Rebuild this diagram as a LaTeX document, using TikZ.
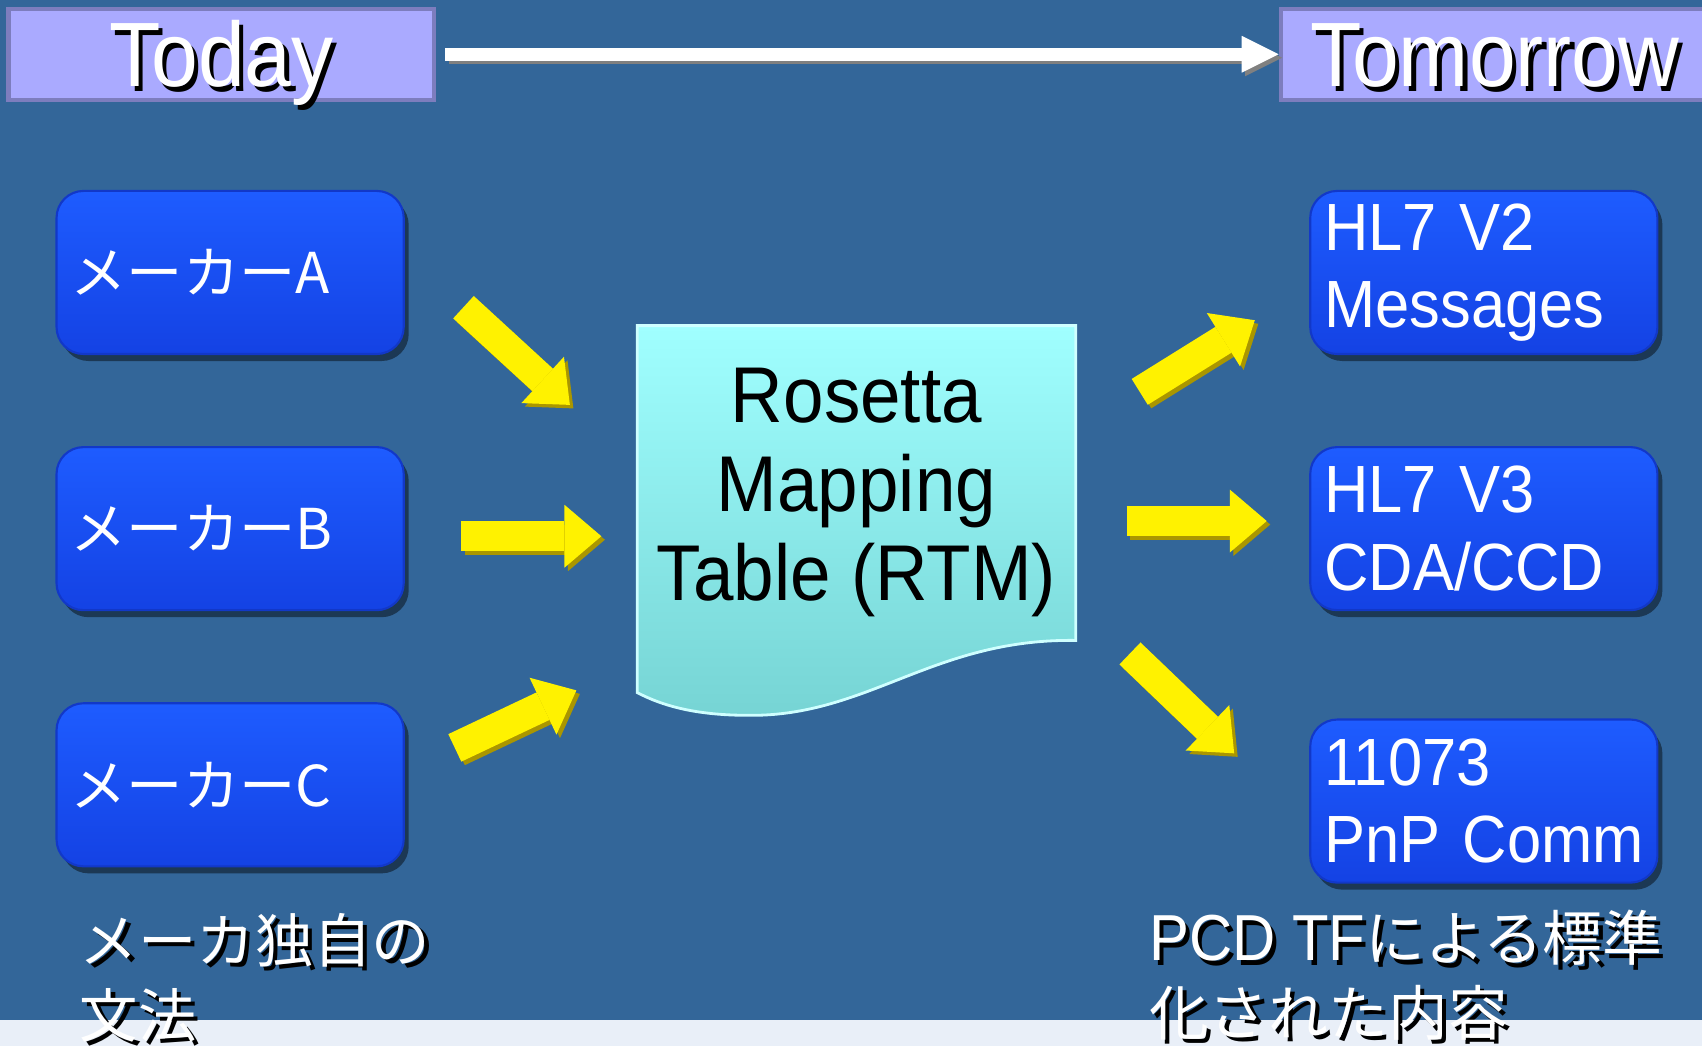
\documentclass[tikz,border=0pt]{standalone}
\usepackage{fontspec}
\setmainfont{Liberation Sans}[FakeStretch=0.92]
\newfontfamily\jp{Noto Sans CJK JP}
\usetikzlibrary{arrows.meta,shadows}
\definecolor{slide}{RGB}{51,102,153}
\definecolor{strip}{RGB}{233,239,248}
\definecolor{lav}{RGB}{170,170,255}
\definecolor{lavline}{RGB}{125,125,190}
\definecolor{btop}{RGB}{30,92,255}
\definecolor{bbot}{RGB}{20,66,228}
\definecolor{bline}{RGB}{18,56,200}
\definecolor{ctop}{RGB}{160,255,255}
\definecolor{cbot}{RGB}{118,212,212}
\definecolor{olivesh}{RGB}{170,150,0}
\newcommand\shd[1]{\leavevmode\rlap{\kern1.2pt\raisebox{-1.2pt}{\color{black}#1}}#1}

\begin{document}
\begin{tikzpicture}[
  x=0.010855cm, y=-0.010855cm,
  tbox/.style={draw=lavline, fill=lav, line width=1.2pt, minimum width=4.255cm,
    minimum height=0.912cm, inner sep=0pt, text=white,
    font=\fontsize{26}{30}\selectfont, text height=18.5pt, text depth=0pt},
  maker/.style={rounded corners=0.27cm, draw=bline, line width=0.6pt,
    top color=btop, bottom color=bbot, minimum width=3.47cm, minimum height=1.63cm,
    text width=3.19cm, align=left, inner xsep=0.14cm, inner ysep=0pt, text=white,
    font={\jp\fontsize{16}{19}\selectfont},
    drop shadow={shadow xshift=0.05cm, shadow yshift=-0.07cm, opacity=0.45, fill=black}},
  std/.style={font=\fontsize{19}{22}\selectfont},
  rtmtext/.style={align=center, inner sep=0pt, font=\fontsize{22.5}{25.3}\selectfont},
  note/.style={align=left, inner sep=0pt, text=white, anchor=north west,
    font={\jp\fontsize{16.6}{21.3}\selectfont}},
  yarr/.style={draw=yellow, line width=8.65pt, -{Triangle[length=10.5pt, width=17.9pt, line width=0pt]}},
  ysh/.style={yarr, draw=olivesh, transform canvas={xshift=1pt, yshift=-1pt}},
  warr/.style={draw=white, line width=3.7pt, -{Triangle[length=10.5pt, width=10.5pt, line width=0pt]}},
  wsh/.style={warr, draw=gray, transform canvas={xshift=1pt, yshift=-1pt}},
]

\useasboundingbox (0,0) rectangle (1568,964);
\clip (0,0) rectangle (1568,964);
\fill [slide] (0,0) rectangle (1568,940);
\fill [strip] (0,940) rectangle (1568,964);

\node [tbox] (today) at (204,50) {\shd{Today}};
\node [tbox, minimum width=4.277cm] (tomorrow) at (1377,50) {\shd{Tomorrow}};
\coordinate (ws) at (410,50);
\draw [wsh] (ws) -- (tomorrow.west);
\draw [warr] (ws) -- (tomorrow.west);

\node [maker] (makerA) at (212,251) {メーカーA};
\node [maker] (makerB) at (212,487) {メーカーB};
\node [maker] (makerC) at (212,723) {メーカーC};
\node [maker, std] (hlvtwo) at (1367,251) {HL7 V2\\Messages};
\node [maker, std] (hlvthree) at (1367,487) {HL7 V3\\CDA/CCD};
\node [maker, std] (pnp) at (1367,738) {11073\\PnP~Comm};

\path [top color=ctop, bottom color=cbot, draw=ctop!50!white, line width=0.8pt]
  (587,300) -- (991,300) -- (991,590) .. controls (860,588) and (800,660) .. (690,659)
  .. controls (640,659) and (610,650) .. (587,638) -- cycle;
\node [rtmtext] (rtm) at (789,454) {Rosetta\\Mapping\\Table (RTM)};

\coordinate (pa) at (427,283);
\coordinate (qa) at (525,373);
\coordinate (pb) at (425,494);
\coordinate (qb) at (554,494);
\coordinate (pc) at (419,689);
\coordinate (qc) at (531,636);
\coordinate (pd) at (1050,361);
\coordinate (qd) at (1156,295);
\coordinate (pe) at (1038,480);
\coordinate (qe) at (1167,480);
\coordinate (pf) at (1041,602);
\coordinate (qf) at (1137,694);
\foreach \p/\q in {pa/qa, pb/qb, pc/qc, pd/qd, pe/qe, pf/qf} {
  \draw [ysh] (\p) -- (\q);
  \draw [yarr] (\p) -- (\q);
}

\node [note] (ownsyntax) at (73,841) {\shd{メーカ独自の}\\\shd{文法}};
\node [note, font={\jp\fontsize{17}{21.3}\selectfont}] (stdcontent) at (1058,838)
  {\shd{{\rmfamily\fontsize{18.5}{21.3}\selectfont PCD TF}}\shd{による標準}\\\shd{化された内容}};

\end{tikzpicture}
\end{document}
